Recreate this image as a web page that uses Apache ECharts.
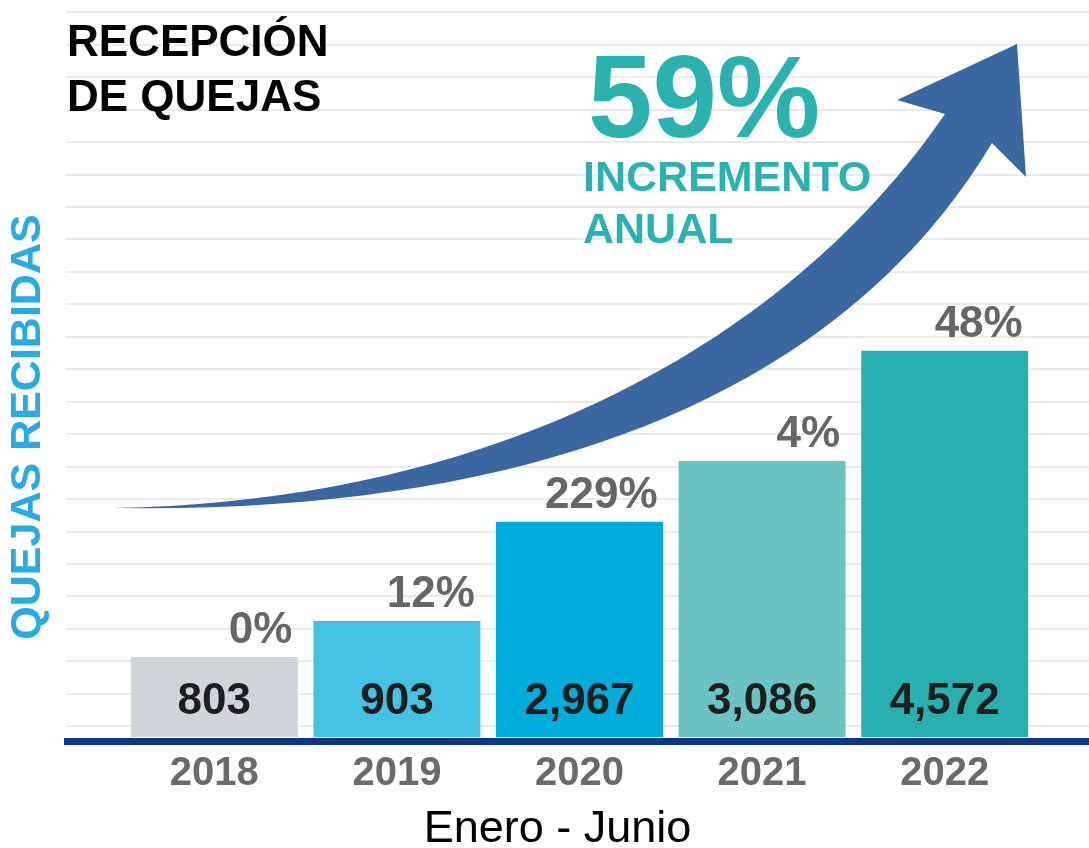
<!DOCTYPE html>
<html>
<head>
<meta charset="utf-8">
<script src="https://cdn.jsdelivr.net/npm/echarts@6/dist/echarts.min.js"></script>
<style>
  html, body { margin: 0; padding: 0; background: #fff; }
  #chart { width: 1089px; height: 848px; }
</style>
</head>
<body>
<div id="chart"></div>
<script>
// datos del gráfico
const years = ['2018', '2019', '2020', '2021', '2022'];
const quejas = [803, 903, 2967, 3086, 4572];
const incremento = ['0%', '12%', '229%', '4%', '48%'];
// altura dibujada de cada barra (no es proporcional al valor en el original)
const barHeights = [12.9, 18.7, 34.7, 44.5, 62.3];
const barColors = ['#d1d5da', '#45c2e1', '#00acd9', '#6cc4c2', '#2aafaf'];
const gridTicks = 22;

// contorno de la flecha decorativa (curvas bezier muestreadas)
function bezier(p0, p1, p2, p3, n) {
  const pts = [];
  for (let i = 0; i <= n; i++) {
    const t = i / n, u = 1 - t;
    pts.push([
      u * u * u * p0[0] + 3 * u * u * t * p1[0] + 3 * u * t * t * p2[0] + t * t * t * p3[0],
      u * u * u * p0[1] + 3 * u * u * t * p1[1] + 3 * u * t * t * p2[1] + t * t * t * p3[1]
    ]);
  }
  return pts;
}
const arrowPoints = [].concat(
  bezier([113, 508], [500, 502], [790, 340], [945, 114], 40),
  [[897, 100], [1017, 44], [1026, 177]],
  bezier([992, 143], [850, 380], [560, 515], [113, 508], 40)
);

const chart = echarts.init(document.getElementById('chart'));

const option = {
  animation: false,
  backgroundColor: '#fff',
  title: [
    {
      text: 'RECEPCIÓN\nDE QUEJAS',
      left: 62,
      top: 11,
      textStyle: { fontFamily: 'Liberation Sans', fontWeight: 'bold', fontSize: 44, lineHeight: 55, color: '#000' }
    },
    {
      text: '59%',
      left: 583,
      top: 42,
      textStyle: { fontFamily: 'Liberation Sans', fontWeight: 'bold', fontSize: 116, lineHeight: 116, color: '#2bb1ae' }
    },
    {
      text: 'INCREMENTO\nANUAL',
      left: 578,
      top: 148,
      textStyle: { fontFamily: 'Liberation Sans', fontWeight: 'bold', fontSize: 43, lineHeight: 52, color: '#2bb1ae' }
    }
  ],
  grid: [
    // líneas guía de fondo
    { left: 66, right: 0, top: 12, bottom: 122, outerBoundsMode: 'none' },
    // línea base
    { left: 64, right: -10, top: 12, bottom: 107, outerBoundsMode: 'none' },
    // barras
    { left: 123, width: 913, top: 117, bottom: 111, outerBoundsMode: 'none' }
  ],
  xAxis: [
    { gridIndex: 0, type: 'value', show: false, min: 0, max: 1 },
    {
      gridIndex: 1, type: 'value', min: 0, max: 1,
      axisLine: { show: true, lineStyle: { color: '#0f3585', width: 7, cap: 'butt' } },
      axisTick: { show: false }, axisLabel: { show: false }, splitLine: { show: false }
    },
    {
      gridIndex: 2, type: 'category', data: years,
      axisLine: { show: false }, axisTick: { show: false },
      axisLabel: { margin: 17, fontFamily: 'Liberation Sans', fontWeight: 'bold', fontSize: 40, color: '#6a6a6a' },
      name: 'Enero - Junio',
      nameLocation: 'middle',
      nameGap: 70,
      nameTextStyle: { fontFamily: 'Liberation Sans', fontSize: 45, color: '#000', padding: [0, 44, 0, 0] }
    }
  ],
  yAxis: [
    {
      gridIndex: 0, type: 'value', min: 0, max: gridTicks, interval: 1,
      axisLine: { show: false }, axisTick: { show: false }, axisLabel: { show: false },
      splitLine: { show: true, lineStyle: { color: '#ebebeb', width: 2 } }
    },
    { gridIndex: 1, type: 'value', show: false, min: 0, max: 1 },
    {
      gridIndex: 2, type: 'value', min: 0, max: 100,
      axisLine: { show: false }, axisTick: { show: false }, axisLabel: { show: false },
      splitLine: { show: false },
      name: 'QUEJAS RECIBIDAS',
      nameLocation: 'middle',
      nameGap: 73,
      nameTextStyle: { fontFamily: 'Liberation Sans', fontWeight: 'bold', fontSize: 43, color: '#29abe2' }
    }
  ],
  series: [
    {
      type: 'bar',
      xAxisIndex: 2,
      yAxisIndex: 2,
      barWidth: 167,
      z: 3,
      data: barHeights.map((h, i) => ({ value: h, itemStyle: { color: barColors[i] } })),
      label: {
        show: true,
        position: 'insideBottom',
        distance: 13,
        formatter: (p) => quejas[p.dataIndex].toLocaleString('en-US'),
        fontFamily: 'Liberation Sans',
        fontWeight: 'bold',
        fontSize: 44,
        color: '#1e1e1e'
      }
    },
    {
      // etiquetas de incremento sobre cada barra
      type: 'bar',
      xAxisIndex: 2,
      yAxisIndex: 2,
      barWidth: 167,
      barGap: '-100%',
      z: 4,
      silent: true,
      itemStyle: { color: 'transparent' },
      data: barHeights,
      label: {
        show: true,
        position: 'top',
        distance: 4,
        align: 'right',
        offset: [78, 0],
        formatter: (p) => incremento[p.dataIndex],
        fontFamily: 'Liberation Sans',
        fontWeight: 'bold',
        fontSize: 44,
        color: '#666'
      }
    }
  ],
  graphic: [
    {
      // flecha de crecimiento
      type: 'polygon',
      z: 1,
      silent: true,
      shape: { points: arrowPoints },
      style: { fill: '#3a67a0' }
    }
  ]
};

chart.setOption(option);
</script>
</body>
</html>
